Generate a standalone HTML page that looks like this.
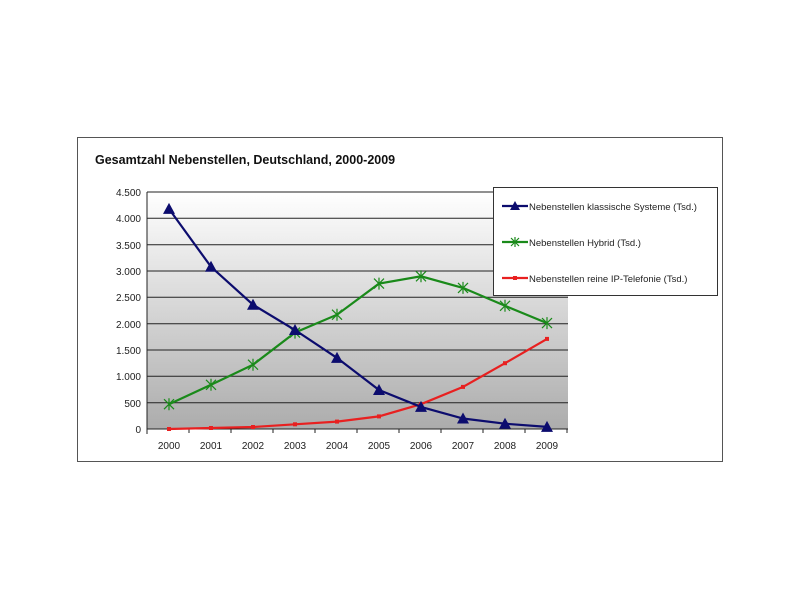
<!DOCTYPE html>
<html><head><meta charset="utf-8"><style>body{margin:0;background:#fff}svg{display:block}text{font-family:"Liberation Sans",sans-serif}</style></head><body>
<svg width="800" height="599" viewBox="0 0 800 599">
<defs>
<linearGradient id="g" x1="0" y1="0" x2="0" y2="1"><stop offset="0" stop-color="#ffffff"/><stop offset="1" stop-color="#acacac"/></linearGradient>
<marker id="tri" markerWidth="14" markerHeight="14" refX="7" refY="7" markerUnits="userSpaceOnUse"><path d="M7,1 L13,12 L1,12 Z" fill="#0c0c6e"/></marker>
<marker id="star" markerWidth="14" markerHeight="14" refX="7" refY="7" markerUnits="userSpaceOnUse"><path d="M2,2 L12,12 M12,2 L2,12 M7,1 L7,13" stroke="#1a8a1a" stroke-width="1.2"/></marker>
<marker id="dot" markerWidth="6" markerHeight="6" refX="3" refY="3" markerUnits="userSpaceOnUse"><rect x="1" y="1" width="4" height="4" fill="#e82020"/></marker>
</defs>
<rect x="77.5" y="137.5" width="645" height="324" fill="#fff" stroke="#555"/>
<text x="95" y="164" font-size="12.5" font-weight="bold" fill="#111">Gesamtzahl Nebenstellen, Deutschland, 2000-2009</text>
<rect x="147" y="192" width="421" height="237" fill="url(#g)"/>
<g stroke="#222" stroke-width="1">
<line x1="147" y1="192" x2="568" y2="192"/><line x1="147" y1="218.3" x2="568" y2="218.3"/><line x1="147" y1="244.7" x2="568" y2="244.7"/><line x1="147" y1="271" x2="568" y2="271"/><line x1="147" y1="297.3" x2="568" y2="297.3"/><line x1="147" y1="323.7" x2="568" y2="323.7"/><line x1="147" y1="350" x2="568" y2="350"/><line x1="147" y1="376.3" x2="568" y2="376.3"/><line x1="147" y1="402.7" x2="568" y2="402.7"/><line x1="147" y1="429" x2="568" y2="429"/>
<line x1="147" y1="192" x2="147" y2="432"/>
<line x1="147" y1="432" x2="147" y2="434"/><line x1="189" y1="429" x2="189" y2="433"/><line x1="231" y1="429" x2="231" y2="433"/><line x1="273" y1="429" x2="273" y2="433"/><line x1="315" y1="429" x2="315" y2="433"/><line x1="357" y1="429" x2="357" y2="433"/><line x1="399" y1="429" x2="399" y2="433"/><line x1="441" y1="429" x2="441" y2="433"/><line x1="483" y1="429" x2="483" y2="433"/><line x1="525" y1="429" x2="525" y2="433"/><line x1="567" y1="429" x2="567" y2="433"/>
</g>
<g font-size="10" fill="#222" text-anchor="end">
<text x="141" y="196">4.500</text><text x="141" y="222">4.000</text><text x="141" y="249">3.500</text><text x="141" y="275">3.000</text><text x="141" y="301">2.500</text><text x="141" y="328">2.000</text><text x="141" y="354">1.500</text><text x="141" y="380">1.000</text><text x="141" y="407">500</text><text x="141" y="433">0</text>
</g>
<g font-size="10" fill="#222" text-anchor="middle">
<text x="169" y="449">2000</text><text x="211" y="449">2001</text><text x="253" y="449">2002</text><text x="295" y="449">2003</text><text x="337" y="449">2004</text><text x="379" y="449">2005</text><text x="421" y="449">2006</text><text x="463" y="449">2007</text><text x="505" y="449">2008</text><text x="547" y="449">2009</text>
</g>
<polyline fill="none" stroke="#e82020" stroke-width="2.2" marker-start="url(#dot)" marker-mid="url(#dot)" marker-end="url(#dot)" points="169,429 211,428 253,427 295,424.3 337,421.6 379,416.4 421,404.2 463,386.9 505,363.2 547,338.9"/>
<polyline fill="none" stroke="#1a8a1a" stroke-width="2.2" marker-start="url(#star)" marker-mid="url(#star)" marker-end="url(#star)" points="169,404.2 211,384.8 253,364.7 295,332.6 337,314.7 379,283.6 421,276.3 463,287.9 505,305.8 547,323.1"/>
<polyline fill="none" stroke="#0c0c6e" stroke-width="2.2" marker-start="url(#tri)" marker-mid="url(#tri)" marker-end="url(#tri)" points="169,208.9 211,266.8 253,304.7 295,330 337,357.9 379,390 421,406.9 463,418.5 505,423.7 547,426.9"/>
<rect x="493.5" y="187.5" width="224" height="108" fill="#fff" stroke="#333"/>
<line x1="502" y1="206" x2="528" y2="206" stroke="#0c0c6e" stroke-width="2.2"/>
<path d="M515,201 L520,210 L510,210 Z" fill="#0c0c6e"/>
<line x1="502" y1="242" x2="528" y2="242" stroke="#1a8a1a" stroke-width="2.2"/>
<path d="M511,238 L519,246 M519,238 L511,246 M515,237 L515,247" stroke="#1a8a1a" stroke-width="1.2"/>
<line x1="502" y1="278" x2="528" y2="278" stroke="#e82020" stroke-width="2.2"/>
<rect x="513" y="276" width="4" height="4" fill="#e82020"/>
<g font-size="9.5" fill="#222">
<text x="529" y="210">Nebenstellen klassische Systeme (Tsd.)</text>
<text x="529" y="246">Nebenstellen Hybrid (Tsd.)</text>
<text x="529" y="282">Nebenstellen reine IP-Telefonie (Tsd.)</text>
</g>
</svg>
</body></html>
